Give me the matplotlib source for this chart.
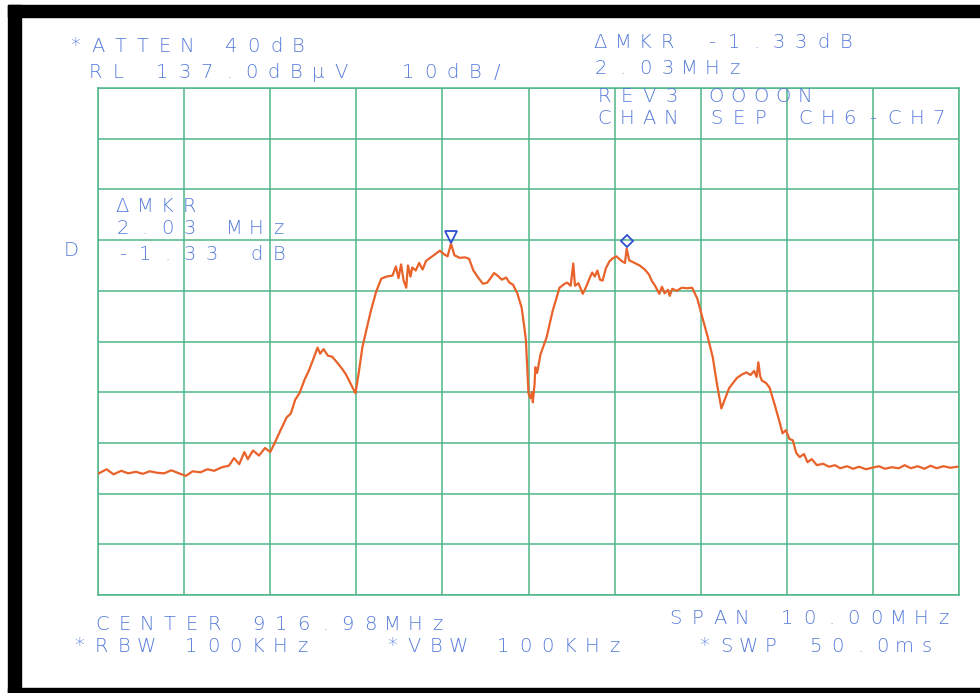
import matplotlib
matplotlib.use("Agg")
import matplotlib.pyplot as plt
import numpy as np

# trace: frequency (MHz) and level (dBuV)
freq_mhz = [
    911.99, 912.08, 912.16, 912.25, 912.33, 912.42, 912.50, 912.58, 912.67, 912.75,
    912.83, 912.92, 913.00, 913.08, 913.17, 913.25, 913.33, 913.42, 913.50, 913.56,
    913.62, 913.68, 913.72, 913.78, 913.85, 913.92, 913.98, 914.03, 914.10, 914.17,
    914.22, 914.27, 914.32, 914.38, 914.43, 914.48, 914.53, 914.56, 914.60, 914.65,
    914.70, 914.76, 914.82, 914.86, 914.92, 914.97, 915.01, 915.05, 915.10, 915.15,
    915.21, 915.27, 915.33, 915.40, 915.44, 915.47, 915.50, 915.53, 915.56, 915.58,
    915.61, 915.63, 915.67, 915.71, 915.75, 915.79, 915.83, 915.88, 915.92, 915.95,
    916.00, 916.04, 916.08, 916.12, 916.18, 916.24, 916.29, 916.34, 916.40, 916.45,
    916.50, 916.54, 916.58, 916.62, 916.67, 916.72, 916.76, 916.80, 916.85, 916.90,
    916.93, 916.95, 916.97, 916.98, 917.00, 917.02, 917.03, 917.05, 917.06, 917.08,
    917.12, 917.19, 917.26, 917.34, 917.40, 917.43, 917.47, 917.50, 917.52, 917.56,
    917.61, 917.65, 917.69, 917.72, 917.75, 917.78, 917.81, 917.84, 917.88, 917.92,
    917.95, 918.00, 918.06, 918.10, 918.12, 918.15, 918.20, 918.27, 918.33, 918.38,
    918.41, 918.45, 918.50, 918.53, 918.56, 918.60, 918.62, 918.65, 918.70, 918.76,
    918.82, 918.88, 918.94, 919.00, 919.06, 919.12, 919.17, 919.22, 919.27, 919.31,
    919.35, 919.40, 919.46, 919.51, 919.56, 919.60, 919.63, 919.65, 919.67, 919.69,
    919.74, 919.78, 919.84, 919.89, 919.93, 919.97, 920.01, 920.05, 920.09, 920.13,
    920.18, 920.22, 920.27, 920.33, 920.40, 920.47, 920.54, 920.60, 920.68, 920.75,
    920.82, 920.90, 920.97, 921.05, 921.12, 921.20, 921.28, 921.35, 921.42, 921.50,
    921.58, 921.65, 921.72, 921.80, 921.88, 921.96,
]
level_dbuv = [
    61.0, 61.8, 60.8, 61.5, 61.0, 61.3, 60.9, 61.4, 61.1, 61.0,
    61.6, 61.0, 60.5, 61.4, 61.2, 61.8, 61.5, 62.2, 62.5, 64.0,
    62.8, 65.2, 63.8, 65.5, 64.5, 66.0, 65.2, 66.9, 69.5, 72.0,
    72.8, 75.5, 76.8, 79.5, 81.3, 83.5, 85.8, 84.6, 85.5, 84.2,
    84.0, 82.8, 81.5, 80.5, 78.5, 76.8, 81.0, 85.8, 89.5, 93.1,
    96.8, 99.4, 99.8, 100.0, 101.8, 99.5, 102.2, 99.0, 97.6, 102.0,
    99.8, 101.6, 101.0, 102.5, 101.2, 102.9, 103.4, 104.0, 104.5, 104.9,
    104.2, 103.8, 106.3, 104.0, 103.5, 103.6, 103.3, 101.0, 99.5, 98.4,
    98.6, 99.5, 100.5, 100.0, 99.2, 99.6, 98.6, 98.2, 96.5, 93.7,
    90.0, 87.2, 80.0, 76.8, 75.8, 77.0, 75.0, 78.5, 81.9, 80.8,
    84.5, 87.8, 93.0, 97.6, 98.4, 98.6, 98.0, 102.4, 98.0, 98.5,
    96.4, 97.8, 99.5, 100.6, 99.8, 101.0, 99.2, 99.0, 101.5, 102.8,
    103.3, 103.8, 102.9, 102.5, 105.3, 103.0, 102.6, 102.0, 101.2, 100.2,
    99.0, 98.0, 96.4, 97.8, 96.5, 97.2, 96.0, 97.4, 97.0, 97.6,
    97.5, 97.6, 95.5, 91.7, 88.0, 83.9, 78.5, 73.8, 76.0, 77.8,
    78.7, 79.8, 80.5, 80.9, 80.4, 81.2, 80.0, 82.9, 80.2, 79.3,
    78.8, 77.9, 74.5, 71.5, 68.9, 69.5, 67.8, 67.5, 65.0, 64.2,
    64.8, 63.2, 63.8, 62.6, 62.9, 62.3, 62.6, 62.0, 62.4, 61.9,
    62.3, 61.8, 62.1, 62.4, 61.9, 62.2, 62.0, 62.6, 62.0, 62.4,
    61.9, 62.5, 62.0, 62.4, 62.1, 62.3,
]

# markers (freq, level)
mkr_ref = (916.08, 107.6)
mkr_delta = (918.12, 106.8)

center_mhz = 916.98
span_mhz = 10.0
ref_level = 137.0
db_per_div = 10.0

W, H = 980, 693
TXT = "#557ad9"
GRID = "#4fb688"
TRACE = "#e8622a"
PITCH = 22.3

fig = plt.figure(figsize=(W / 100, H / 100), dpi=100)
fig.patch.set_facecolor("white")

# black scan frame
for x0, y0, w, h in [(8, 5, 972, 12), (8, 5, 13, 688), (8, 688, 972, 5)]:
    fig.add_artist(plt.Rectangle((x0 / W, 1 - (y0 + h) / H), w / W, h / H,
                                 transform=fig.transFigure, color="black", zorder=0))

left, right, top, bottom = 98, 959, 88, 595
ax = fig.add_axes([left / W, 1 - bottom / H, (right - left) / W, (bottom - top) / H])
ax.set_xlim(center_mhz - span_mhz / 2, center_mhz + span_mhz / 2)
ax.set_ylim(ref_level - 10 * db_per_div, ref_level)
ax.set_xticks(np.linspace(center_mhz - span_mhz / 2, center_mhz + span_mhz / 2, 11))
ax.set_yticks(np.linspace(ref_level - 10 * db_per_div, ref_level, 11))
ax.tick_params(length=0, labelbottom=False, labelleft=False)
ax.grid(True, color=GRID, lw=1.1)
for s in ax.spines.values():
    s.set_color(GRID)
    s.set_linewidth(1.1)

ax.plot(freq_mhz, level_dbuv, color=TRACE, lw=1.6, zorder=3)
ax.plot(*mkr_ref, marker="v", ms=8, mfc="none", mec="#2f4fd0", mew=1.3, zorder=4)
ax.plot(*mkr_delta, marker="D", ms=6, mfc="none", mec="#2f4fd0", mew=1.3, zorder=4)


def plot_text(x, y, s):
    # plotter style text, fixed pitch
    for i, c in enumerate(s):
        if c == " ":
            continue
        fig.text((x + 7.5 + i * PITCH) / W, 1 - y / H, c, ha="center", va="center",
                 fontsize=14, color=TXT, fontweight="light", family="DejaVu Sans")


plot_text(68, 46, "*ATTEN 40dB")
plot_text(88, 73, "RL 137.0dBμV  10dB/")
plot_text(593, 43, "ΔMKR -1.33dB")
plot_text(593, 69, "2.03MHz")
plot_text(597, 96, "REV3 OOOON")
plot_text(597, 119, "CHAN SEP CH6-CH7")
plot_text(115, 207, "ΔMKR")
plot_text(115, 229, "2.03 MHz")
plot_text(115, 255, "-1.33 dB")
plot_text(64, 250, "D")
plot_text(95, 624, "CENTER 916.98MHz")
plot_text(668, 619, "SPAN 10.00MHz")
plot_text(72, 646, "*RBW 100KHz   *VBW 100KHz   *SWP 50.0ms")

fig.savefig("out.png", dpi=100)
